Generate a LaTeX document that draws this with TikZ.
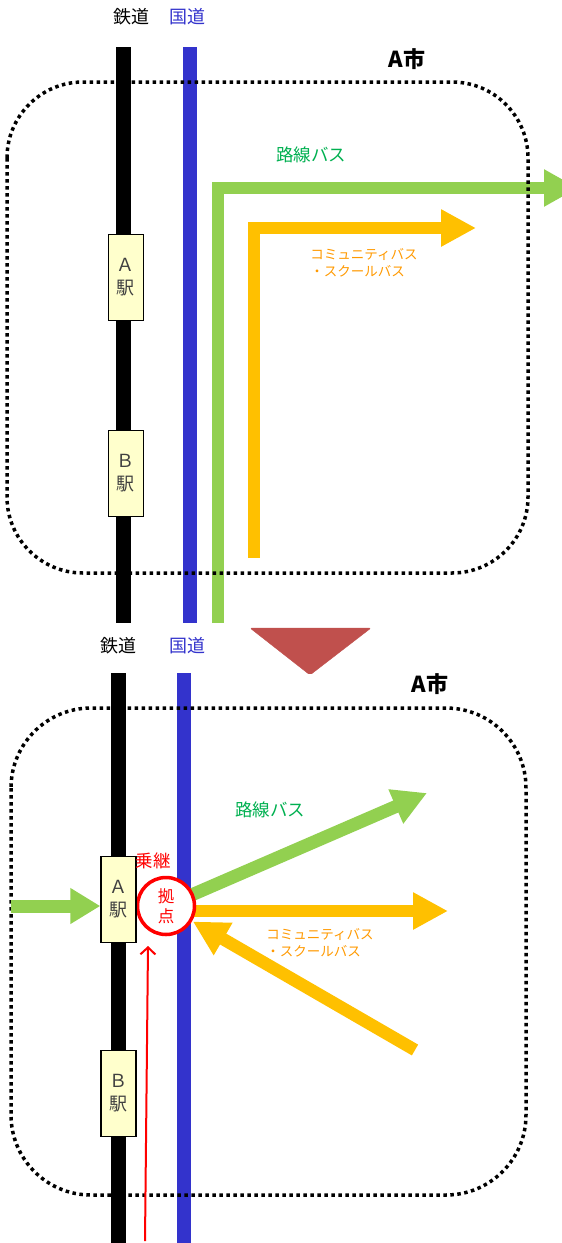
\documentclass[tikz,border=0pt]{standalone}
\usepackage{fontspec}
\setmainfont{Noto Sans CJK JP}
\usetikzlibrary{arrows.meta,calc}
\definecolor{roadblue}{HTML}{3333CC}
\definecolor{busgreen}{HTML}{92D050}
\definecolor{busorange}{HTML}{FFC000}
\definecolor{labelgreen}{HTML}{00B050}
\definecolor{labelorange}{HTML}{FF9900}
\definecolor{stationfill}{HTML}{FFFFCC}
\definecolor{downred}{HTML}{C0504D}
\definecolor{hubred}{HTML}{FF0000}
\begin{document}
\begin{tikzpicture}[x=1pt,y=-1pt,
  rail/.style={line width=15pt},
  road/.style={roadblue, line width=14pt},
  citybound/.style={line width=3.5pt, dash pattern=on 3.5pt off 3.5pt},
  station/.style={draw, fill=stationfill, line width=1.4pt, minimum width=35pt,
    minimum height=86pt, inner sep=0pt, align=center, text=black!75,
    font=\fontsize{18}{23}\selectfont},
  greenbus/.style={busgreen, line width=12.5pt, line join=miter,
    -{Triangle[length=34pt,width=35pt]}},
  orangebus/.style={busorange, line width=12pt, line join=miter,
    -{Triangle[length=35pt,width=35pt]}},
  head/.style={font=\fontsize{18}{20}\selectfont},
  citylabel/.style={font=\bfseries\fontsize{22}{24}\selectfont},
  greenlabel/.style={labelgreen, font=\fontsize{17.5}{20}\selectfont},
  orangelabel/.style={labelorange, align=left, font=\fontsize{13.5}{16.5}\selectfont},
  hubnode/.style={circle, draw=hubred, fill=white, line width=3.5pt, minimum size=57pt,
    inner sep=0pt, outer sep=0pt, align=center, text=hubred,
    font=\fontsize{16.5}{20}\selectfont}]

\useasboundingbox (0,0) rectangle (562,1243);
\clip (0,0) rectangle (562,1243);

% ---------- before ----------
\node[head] (rail1) at (131,17) {鉄道};
\node[head, roadblue] (road1) at (187,17) {国道};
\coordinate (r1t) at (123.5,47);  \coordinate (r1b) at (123.5,623);
\coordinate (d1t) at (189.5,47);  \coordinate (d1b) at (189.5,623);
\draw[rail] (r1t) -- (r1b);
\draw[road] (d1t) -- (d1b);

\coordinate (g1s) at (218,623); \coordinate (g1c) at (218,188); \coordinate (g1e) at (578,188);
\draw[greenbus] (g1s) -- (g1c) -- (g1e);
\coordinate (o1s) at (254,558); \coordinate (o1c) at (254,228); \coordinate (o1e) at (476,228);
\draw[orangebus] (o1s) -- (o1c) -- (o1e);

\draw[citybound, rounded corners=76pt] (7,82) rectangle (528,573);

\node[station] (stA1) at (125.8,277.5) {Ａ\\駅};
\node[station] (stB1) at (125.8,473.5) {Ｂ\\駅};

\node[citylabel] (city1) at (407,59) {A市};
\node[greenlabel] (gl1) at (311,155) {路線バス};
\node[orangelabel] (ol1) at (364,263) {コミュニティバス\\・スクールバス};

% ---------- arrow between ----------
\draw[downred, fill=downred, rounded corners=2pt] (250,628) -- (371,628) -- (310,675) -- cycle;

% ---------- after ----------
\node[head] (rail2) at (118,646) {鉄道};
\node[head, roadblue] (road2) at (187,646) {国道};
\coordinate (r2t) at (118.5,673); \coordinate (r2b) at (118.5,1243);
\coordinate (d2t) at (184,673);   \coordinate (d2b) at (184,1243);
\draw[rail] (r2t) -- (r2b);
\draw[road] (d2t) -- (d2b);

\coordinate (hubc) at (166,906);
\coordinate (gout) at (427,793);
\coordinate (oout) at (448,911);
\coordinate (oin)  at (415,1050);
\coordinate (gin)  at (11,906);
\coordinate (rin)  at (145,1241);

\draw[greenbus, line width=13pt] (hubc) -- (gout);
\draw[orangebus, line width=12pt] (hubc |- oout) -- (oout);
\draw[orangebus, line width=12.5pt] (oin) -- ($(hubc)!31pt!(oin)$);

\node[hubnode] (hub) at (hubc) {拠\\点};

\draw[citybound, rounded corners=80pt] (11,708) rectangle (526,1195);

\node[station] (stA2) at (118.5,899.5) {Ａ\\駅};
\node[station] (stB2) at (118.5,1093.5) {Ｂ\\駅};

\draw[busgreen, line width=13pt, -{Triangle[length=30pt,width=34pt]}] (gin) -- (gin -| stA2.west);
\draw[hubred, line width=2pt, -{Straight Barb[length=7pt,width=15pt]}] (rin) -- (148,946);

\node[citylabel] (city2) at (430,684) {A市};
\node[hubred, font=\fontsize{17.5}{20}\selectfont] (relay) at (153,861) {乗継};
\node[greenlabel] (gl2) at (270,810) {路線バス};
\node[orangelabel] (ol2) at (320,943) {コミュニティバス\\・スクールバス};
\end{tikzpicture}
\end{document}
